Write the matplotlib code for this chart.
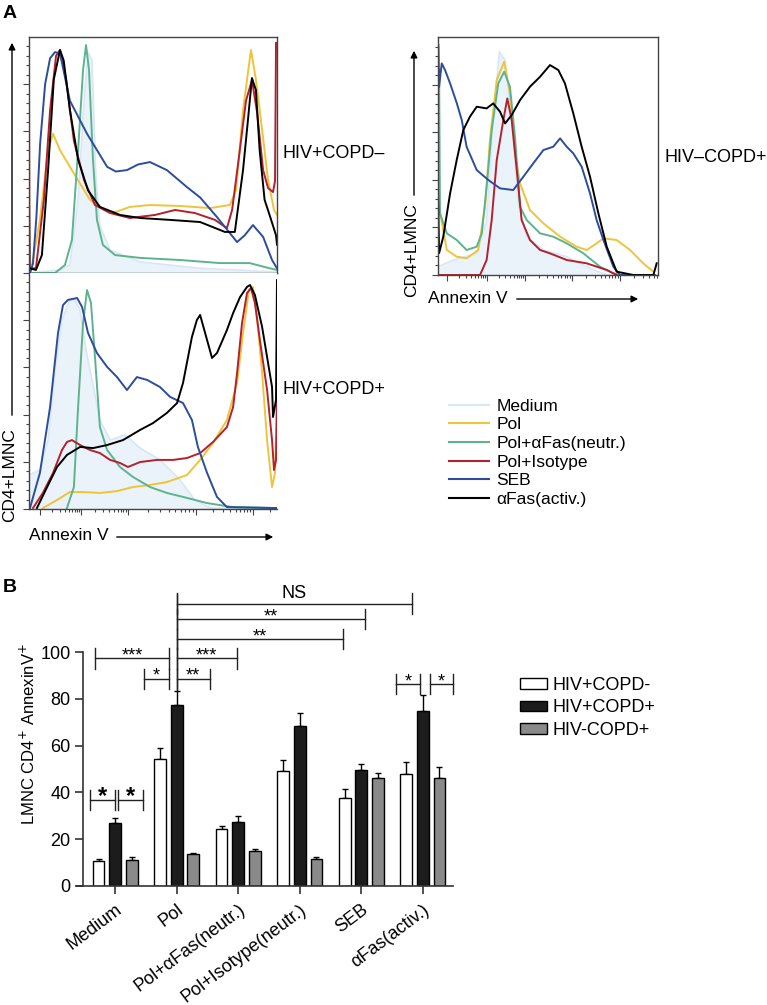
import matplotlib
matplotlib.use('Agg')
import numpy as np
import matplotlib.pyplot as plt
from matplotlib.lines import Line2D
from matplotlib.patches import FancyArrowPatch

plt.rcParams['font.family'] = ['Liberation Sans', 'DejaVu Sans']

W, H = 767, 1005

# ---------------- panel A data: (annexin %, count % of max)
# HIV+COPD-
top_medium = [(0, 0), (12.5, 1.3), (16.5, 3.4), (19.8, 31), (22.2, 73), (23.8, 93.6), (25.4, 90),
              (27, 39.4), (28.6, 20), (32.7, 9.7), (44.8, 4.7), (69, 2), (100, 0.4)]
top_pol = [(0.8, 1), (4.4, 22.5), (7.7, 52), (9.7, 59), (12.5, 52), (18.5, 41.5), (24.6, 31),
           (30.6, 26.7), (34.7, 25.8), (40.7, 28), (48.8, 28.8), (60.9, 28.4), (73, 27.5),
           (81, 28.8), (83.5, 35), (86.3, 69), (89.5, 94.5), (91.5, 82), (94, 60.6), (96.4, 39.4),
           (98.8, 26.7), (100, 24.6)]
top_pol_afas = [(0, 0), (10.5, 0), (14.5, 3.4), (17.3, 14), (19.8, 52), (21.8, 86), (23, 96.6),
                (24.2, 86), (25.8, 48), (27.4, 22.5), (29.8, 11.9), (34.7, 7.6), (44.8, 6.4),
                (61, 5.5), (77, 4.2), (89, 4.2), (97, 2), (100, 1.3)]
top_pol_iso = [(0, 79.7), (0.2, 2), (2.8, 2), (6, 31), (8.5, 69), (10.9, 92), (12.5, 94.5),
               (15, 82), (18.1, 56), (22.2, 39.4), (26.6, 28.8), (32.7, 25.4), (40.7, 23.3),
               (50.8, 24.6), (58.9, 26.7), (66.9, 25.4), (75, 22.5), (79.8, 19), (81.9, 26.7),
               (85, 52), (87.5, 73), (89.9, 81.8), (92, 67.8), (94.4, 43.6), (96.4, 36),
               (98.4, 34.3), (99.2, 39), (99.6, 97.5)]
top_seb = [(0.4, 0), (1.6, 4), (3, 24), (4.5, 55), (6.5, 80), (8.5, 91), (10.5, 93.6), (12.5, 93),
           (16.5, 73), (23.4, 59), (31.5, 45), (35, 43), (39.5, 43.6), (44, 46), (48.8, 47),
           (55.6, 43.6), (63.7, 36.4), (69, 32), (75.8, 23.7), (83.9, 13.1), (87, 16),
           (90.3, 20.3), (94.4, 15.3), (98, 5.5), (100, 2)]
top_afas = [(0, 31), (0.2, 2), (2.8, 1.3), (5.2, 7.6), (7.7, 43.6), (10, 82), (12.5, 94.5),
            (14, 90), (16.5, 69), (19.8, 48), (23.8, 35), (28.6, 28), (36.7, 24.6), (44.8, 23.3),
            (56.9, 22.5), (69, 21.6), (79, 17.4), (83, 17.4), (86.3, 43.6), (88.3, 65),
            (89.9, 82.6), (91.5, 77.5), (93, 52), (95, 31), (97, 24.6), (99.6, 16), (100, 12)]

# HIV+COPD+
bot_medium = [(0, 14.4), (4.4, 16.5), (7.7, 29.2), (10.5, 58.9), (13.3, 80.1), (16.5, 88.6),
              (18.5, 88.6), (20.6, 84.3), (23, 67.4), (25.4, 54.7), (28.6, 37.7), (32.7, 29.2),
              (38.7, 31.4), (44.8, 25.8), (52.8, 20.8), (60.9, 12.3), (66.9, 3.8), (73, 0.4),
              (100, 0.4)]
bot_pol = [(5.6, 0.4), (11.3, 3.8), (16.5, 7.2), (21.8, 7.2), (28.6, 6.8), (35.5, 7.6),
           (41.9, 9.3), (48.8, 10.2), (55.6, 11.4), (63.7, 14.4), (69, 20.8), (74.2, 28),
           (79.8, 37.7), (83.9, 53.4), (86.3, 74.6), (88.7, 92.8), (90.3, 94.1), (91.9, 81.4),
           (94, 57.6), (96, 29.2), (98, 9.3), (99.2, 15.3), (100, 46.2)]
bot_pol_afas = [(15.3, 0.4), (18.1, 9.3), (19.8, 43.2), (21.8, 78.8), (23.4, 92.8), (25, 87.3),
                (26.6, 64.4), (28.6, 34.7), (31.5, 25), (36.7, 17.8), (41.9, 13.6), (48.8, 9.3),
                (55.6, 6.8), (63.7, 4.7), (71.8, 2.5), (82.3, 0.8), (100, 0.4)]
bot_pol_iso = [(1.6, 0.4), (5.6, 6.8), (9.7, 15.3), (13.3, 25), (15.3, 28.4), (17.3, 29.2),
               (20.6, 27.1), (24.6, 25), (28.6, 23.7), (32.7, 20.8), (36.7, 19.5), (39.9, 17.8),
               (44.8, 19.9), (51.6, 20.8), (58.1, 20.8), (63.7, 21.6), (69, 23.7), (74.2, 28.4),
               (79.8, 34.7), (82.3, 43.2), (83.9, 57.6), (85.9, 78.8), (87.9, 91.5), (89.5, 93.6),
               (91.1, 87.3), (93.1, 71.6), (96, 50.4), (98, 29.2), (98.8, 16.5), (99.6, 20.8),
               (100, 46.2)]
bot_seb = [(0.4, 0.4), (4.4, 15.3), (8.5, 43.2), (11.7, 74.6), (13.7, 86.4), (15.7, 88.6),
           (19.4, 89.4), (21.4, 85.6), (23.8, 74.6), (27.4, 66.1), (31.5, 60.2), (35.5, 55.9),
           (39.5, 50.4), (43.5, 55.9), (47.6, 54.7), (52.8, 51.7), (56.9, 47.5), (62.1, 44.9),
           (65.7, 37.7), (68.1, 26.3), (71.8, 15.3), (75.8, 5.1), (79.8, 0.8), (100, 0.4)]
bot_afas = [(3.2, 0.4), (7.3, 9.3), (11.3, 17.8), (15.3, 22.9), (20.6, 26.3), (25.8, 25.8),
            (31.5, 27.1), (37.9, 29.2), (44.8, 33.5), (50, 36.4), (55.6, 40.7), (59.7, 44.9),
            (62.1, 53.4), (65.7, 72.9), (67.7, 80.1), (69, 82.2), (71.8, 71.6), (73.8, 64),
            (75.8, 66.1), (79.8, 75.8), (82.3, 83), (85.1, 89.8), (87.9, 94.1), (89.1, 94.9),
            (91.1, 90.7), (94, 77.1), (96, 64.4), (98, 51.7), (98.4, 39), (99.6, 46.2), (100, 97)]

# HIV-COPD+
rt_medium = [(0, 3.5), (7, 6.3), (17.6, 9.1), (22.1, 23.1), (25.1, 65.1), (27.9, 93.8),
             (30.5, 90.3), (33.5, 65.1), (36.5, 30.1), (40.3, 16.1), (47.9, 10.5), (58.5, 7.7),
             (67.6, 3.5), (76.7, 0), (100, 0)]
rt_pol = [(0.2, 30.1), (4, 10.5), (8.5, 7.7), (13, 7), (18.3, 10.5), (21.4, 28.7), (23.6, 56.7),
          (26.7, 81.9), (30.1, 89.6), (32.7, 76.3), (35, 51.1), (37.3, 38.5), (41.8, 27.3),
          (47.9, 21.7), (55.5, 16.1), (63, 11.9), (67.6, 10.5), (72.1, 13.3), (75.2, 15.4),
          (81.2, 14.7), (87.3, 10.5), (93.3, 4.9), (97.9, 1.4)]
rt_pol_afas = [(0.5, 86.1), (0.9, 25.9), (4, 17.5), (8.5, 14.7), (13, 10.5), (17.6, 11.9),
               (19.9, 17.5), (22.1, 37.1), (24.4, 60.9), (27.4, 80.5), (30.1, 85.4), (32.7, 79.1),
               (35, 58.1), (37.3, 28.7), (40.3, 23.1), (46.4, 17.5), (52.4, 16.1), (58.5, 13.3),
               (66.1, 9.1), (73.6, 3.5), (79.7, 0.7), (82.7, 0)]
rt_pol_iso = [(0, 0), (19.1, 0), (22.1, 6.3), (24.4, 23.1), (26.7, 48.3), (29.7, 65.1),
              (31.5, 74.2), (33.5, 65.1), (35.8, 44.1), (38, 23.1), (41.8, 14.7), (46.4, 10.5),
              (50.9, 9.1), (58.5, 6.3), (67.6, 4.9), (76.7, 2.1), (81.2, 0)]
rt_seb = [(0.2, 96.6), (0.5, 79), (1.7, 88.9), (3.2, 86.1), (5.5, 80.5), (8.5, 72.3),
          (10.8, 65.1), (13, 53.9), (17.6, 44.1), (22.9, 39.9), (28.2, 36.4), (34.2, 35.7),
          (38.8, 41.3), (43.3, 46.9), (47.9, 52.5), (52.4, 53.9), (55.5, 57.4), (58.5, 53.9),
          (61.5, 51.1), (65.3, 45.5), (69.1, 34.3), (72.1, 23.1), (75.2, 14.7), (79.7, 3.5),
          (82.7, 0), (98.6, 0)]
rt_afas = [(0, 35), (0.5, 9.2), (2.4, 16.1), (5.5, 34.3), (8.5, 48.3), (11.5, 60.9), (14.5, 66.5),
           (17.6, 70.7), (22.1, 70), (25.1, 72.1), (28.2, 68.6), (30.5, 63.7), (33.5, 67.2),
           (37.3, 73.5), (41.8, 79.1), (46.4, 83.3), (50.9, 88.2), (54.7, 86.1), (57.7, 80.5),
           (61.5, 67.9), (65.3, 53.9), (69.1, 41.3), (72.9, 25.9), (76.7, 11.9), (81.2, 1.4),
           (88.8, 0), (97.9, 0), (99.4, 4.9)]

treatments = ['Medium', 'Pol', 'Pol+\u03b1Fas(neutr.)', 'Pol+Isotype', 'SEB', '\u03b1Fas(activ.)']
trt_colors = ['#d8e7f4', '#efc43a', '#5db38e', '#b3202e', '#2c4c9c', '#000000']

# ---------------- panel B data
groups = ['Medium', 'Pol', 'Pol+\u03b1Fas(neutr.)', 'Pol+Isotype(neutr.)', 'SEB', '\u03b1Fas(activ.)']
hiv_pos_copd_neg = [10.5, 54.5, 24.5, 49, 37.5, 48]
hiv_pos_copd_neg_err = [1, 4.5, 1, 5, 4, 5]
hiv_pos_copd_pos = [27, 77.5, 27.5, 68.5, 49.5, 75]
hiv_pos_copd_pos_err = [2, 6, 2.5, 5.5, 2.5, 6.5]
hiv_neg_copd_pos = [11, 13.5, 15, 11.5, 46, 46]
hiv_neg_copd_pos_err = [1.3, 0.7, 0.8, 0.8, 2.5, 4.7]
series_names = ['HIV+COPD-', 'HIV+COPD+', 'HIV-COPD+']

# significance brackets: x start, x end, height, label
brackets = [(-0.41, -0.01, 36.6, '*'), (0.04, 0.46, 36.6, '*'),
            (-0.32, 0.88, 97.3, '***'), (0.47, 0.88, 88.7, '*'),
            (1.0, 1.98, 97.3, '***'), (1.0, 1.54, 88.7, '**'),
            (1.0, 3.70, 105.6, '**'), (1.0, 4.06, 114.1, '**'),
            (1.0, 4.82, 120.8, 'NS'),
            (4.56, 4.95, 86.2, '*'), (5.11, 5.49, 86.2, '*')]


def fx(px):
    return px / W


def fy(py):
    return 1 - py / H


def flow_ticks(ax, majors):
    minors = []
    steps = list(zip(majors[:-1], majors[1:]))
    steps.append((majors[-1], majors[-1] + (majors[-1] - majors[-2])))
    for a, b in steps:
        for k in range(2, 10):
            p = a + (b - a) * np.log10(k)
            if p <= 100:
                minors.append(p)
    ax.set_xticks(majors)
    ax.set_xticks(minors, minor=True)
    ax.set_yticks([0, 20, 40, 60, 80])
    ax.set_yticks([v for v in range(4, 100, 4) if v % 20], minor=True)
    ax.tick_params(which='both', direction='out', labelleft=False, labelbottom=False,
                   color='#444444', width=0.8)
    ax.tick_params(which='major', length=4.5)
    ax.tick_params(which='minor', length=2.2)


def draw_hist(ax, curves, frame=True):
    for i, pts in enumerate(curves):
        xs = [p[0] for p in pts]
        ys = [p[1] for p in pts]
        if i == 0:
            ax.fill_between(xs, ys, 0, color='#eaf2fa', lw=0)
            ax.plot(xs, ys, color=trt_colors[0], lw=1.2)
        else:
            ax.plot(xs, ys, color=trt_colors[i], lw=1.4)
    ax.set_xlim(0, 100)
    ax.set_ylim(0, 100)
    for s in ax.spines.values():
        s.set_color('#444444')
        s.set_linewidth(1)
    if not frame:
        ax.spines['top'].set_visible(False)
        ax.spines['right'].set_visible(False)


fig = plt.figure(figsize=(W / 100, H / 100), dpi=100)

ax1 = fig.add_axes([fx(29), fy(273), 248 / W, 236 / H])
draw_hist(ax1, [top_medium, top_pol, top_pol_afas, top_pol_iso, top_seb, top_afas])
flow_ticks(ax1, [4.4, 21, 39.9, 67.3, 90.3])

ax2 = fig.add_axes([fx(29), fy(509), 248 / W, 236 / H])
draw_hist(ax2, [bot_medium, bot_pol, bot_pol_afas, bot_pol_iso, bot_seb, bot_afas], frame=False)
flow_ticks(ax2, [4.4, 21, 39.9, 67.3, 90.3])

ax3 = fig.add_axes([fx(438), fy(275), 220 / W, 238 / H])
draw_hist(ax3, [rt_medium, rt_pol, rt_pol_afas, rt_pol_iso, rt_seb, rt_afas])
flow_ticks(ax3, [4, 22.4, 39.5, 60.8, 82.7])

# axis arrows and labels of panel A
def arrow(x0, y0, x1, y1):
    a = FancyArrowPatch((fx(x0), fy(y0)), (fx(x1), fy(y1)), transform=fig.transFigure,
                        arrowstyle='-|>', mutation_scale=10, color='k', lw=1)
    fig.patches.append(a)

arrow(12, 418, 12, 40)
fig.text(fx(10), fy(475), 'CD4+LMNC', rotation=90, ha='center', va='center', fontsize=12.5)
fig.text(fx(29), fy(536), 'Annexin V', ha='left', va='center', fontsize=12.5)
arrow(114, 537, 276, 537)

arrow(414, 198, 414, 48)
fig.text(fx(412), fy(250), 'CD4+LMNC', rotation=90, ha='center', va='center', fontsize=12.5)
fig.text(fx(428), fy(298), 'Annexin V', ha='left', va='center', fontsize=12.5)
arrow(514, 299, 641, 299)

fig.text(fx(283), fy(153), 'HIV+COPD\u2013', ha='left', va='center', fontsize=13)
fig.text(fx(283), fy(390), 'HIV+COPD+', ha='left', va='center', fontsize=13)
fig.text(fx(665), fy(157), 'HIV\u2013COPD+', ha='left', va='center', fontsize=13)

handles_a = [Line2D([], [], color=c, lw=1.5) for c in trt_colors]
fig.legend(handles_a, treatments, loc='upper left', bbox_to_anchor=(fx(440), fy(390)),
           frameon=False, fontsize=12.5, handlelength=2.3, handletextpad=0.45,
           labelspacing=0.2, borderpad=0)

fig.text(fx(3), fy(14), 'A', fontsize=14, fontweight='bold', ha='left', va='center')
fig.text(fx(3), fy(587), 'B', fontsize=14, fontweight='bold', ha='left', va='center')

# ---------------- panel B
axb = fig.add_axes([fx(77), fy(886), 376 / W, (886 - 582) / H])
x = np.arange(len(groups))
offsets = [-0.27, 0, 0.27]
fills = ['white', '#1c1c1c', '#8a8a8a']
vals = [hiv_pos_copd_neg, hiv_pos_copd_pos, hiv_neg_copd_pos]
errs = [hiv_pos_copd_neg_err, hiv_pos_copd_pos_err, hiv_neg_copd_pos_err]
bar_handles = []
for off, c, v, e, name in zip(offsets, fills, vals, errs, series_names):
    b = axb.bar(x + off, v, width=0.19, color=c, edgecolor='k', linewidth=1, label=name, zorder=2)
    axb.errorbar(x + off, v, yerr=[np.zeros(len(v)), e], fmt='none', ecolor='k',
                 elinewidth=1, capsize=2.5, capthick=1, zorder=1)
    bar_handles.append(b)

axb.set_xlim(-0.62, 5.49)
axb.set_ylim(0, 130)
axb.spines['top'].set_visible(False)
axb.spines['right'].set_visible(False)
axb.spines['left'].set_position(('data', -0.52))
axb.spines['left'].set_bounds(0, 100)
for s in ['left', 'bottom']:
    axb.spines[s].set_color('#333333')
    axb.spines[s].set_linewidth(1.2)
axb.set_yticks(range(0, 101, 20))
axb.set_xticks(x)
axb.set_xticklabels(groups, rotation=37, ha='right', rotation_mode='anchor', fontsize=13)
axb.tick_params(axis='y', labelsize=13, length=6, width=1.2, color='#333333', pad=3)
axb.tick_params(axis='x', length=6, width=1.2, color='#333333', pad=5)
axb.set_ylabel('LMNC CD4$^{+}$ AnnexinV$^{+}$', fontsize=12, labelpad=2)

for x0, x1, yv, lab in brackets:
    tk = 4.3
    axb.plot([x0, x1], [yv, yv], color='#222222', lw=1, clip_on=False)
    axb.plot([x0, x0], [yv - tk, yv + tk], color='#222222', lw=1, clip_on=False)
    axb.plot([x1, x1], [yv - tk, yv + tk], color='#222222', lw=1, clip_on=False)
    if lab == 'NS':
        axb.text((x0 + x1) / 2, yv + 0.8, lab, ha='center', va='bottom', fontsize=13)
    elif yv < 50:
        axb.text((x0 + x1) / 2, yv + 1.5, lab, ha='center', va='center', fontsize=17,
                 fontweight='bold')
    else:
        axb.text((x0 + x1) / 2, yv + 1.0, lab, ha='center', va='center', fontsize=13)
axb.plot([1.0, 1.0], [83.8, 125], color='#222222', lw=1, clip_on=False)

fig.legend(bar_handles, series_names, loc='upper left', bbox_to_anchor=(fx(511), fy(668)),
           frameon=False, fontsize=13, handlelength=1.5, handleheight=0.55,
           handletextpad=0.3, labelspacing=0.3, borderpad=0)

plt.savefig('out.png', dpi=100)
